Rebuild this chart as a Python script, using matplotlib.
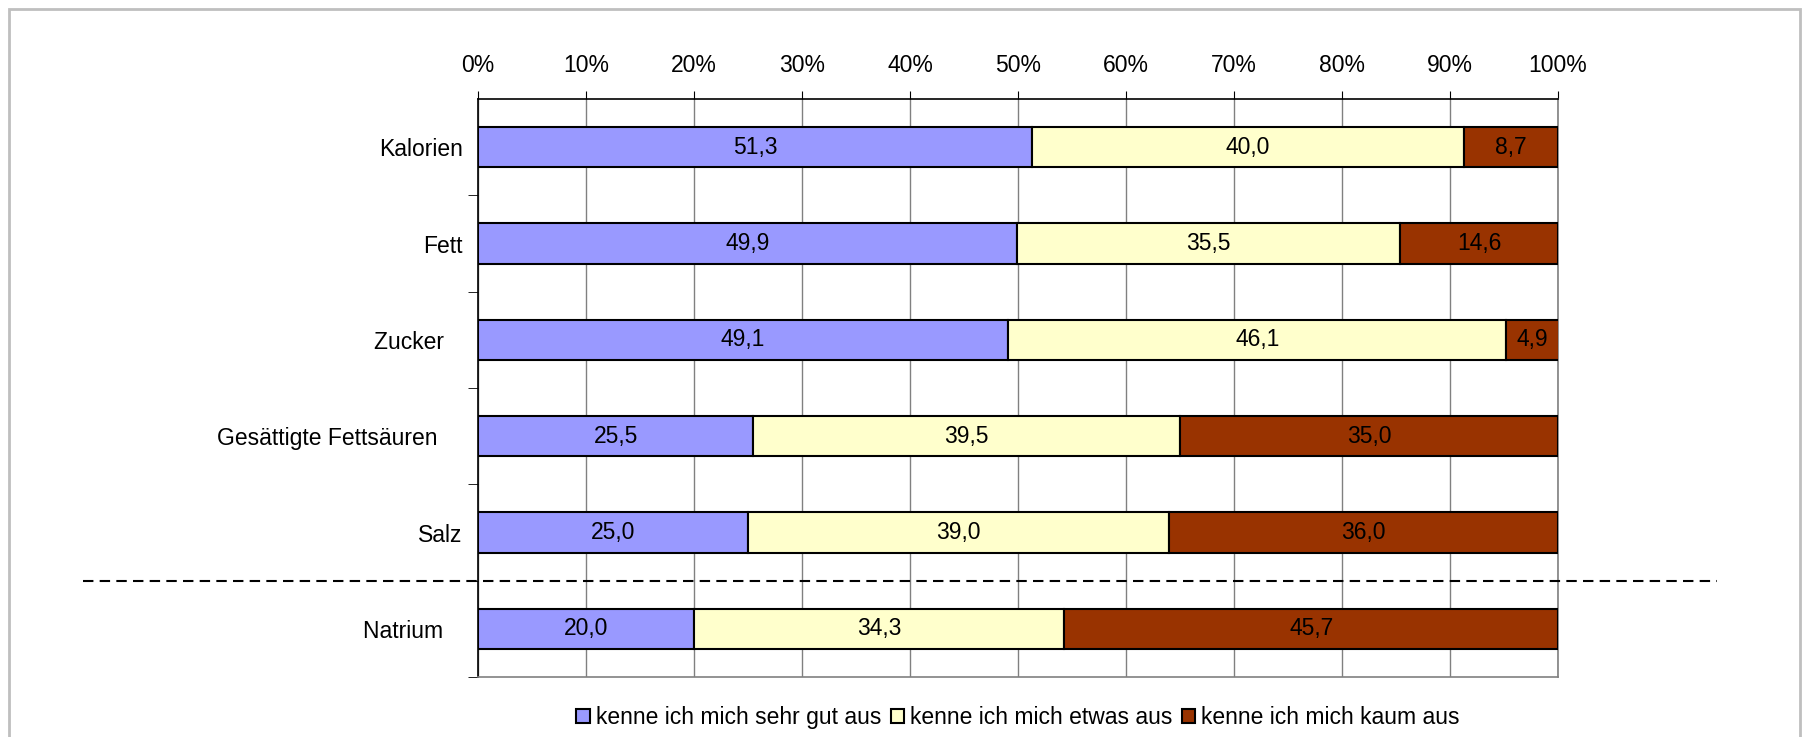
import numpy as np
import matplotlib.pyplot as plt
from matplotlib.patches import Rectangle

plt.rcParams['font.family'] = ['Liberation Sans', 'DejaVu Sans']

# categories from top to bottom
labels = ["Kalorien", "Fett", "Zucker   ", "Gesättigte Fettsäuren    ", "Salz", "Natrium   "]
sehr_gut = [51.3, 49.9, 49.1, 25.5, 25.0, 20.0]
etwas = [40.0, 35.5, 46.1, 39.5, 39.0, 34.3]
kaum = [8.7, 14.6, 4.9, 35.0, 36.0, 45.7]
series_names = ["kenne ich mich sehr gut aus", "kenne ich mich etwas aus", "kenne ich mich kaum aus"]
colors = ["#9999FF", "#FFFFCC", "#993300"]
xticks = [0, 10, 20, 30, 40, 50, 60, 70, 80, 90, 100]

fs = 16.5
fig = plt.figure(figsize=(18.05, 7.37), dpi=100)
ax = fig.add_axes([478/1805, 1-677/737, 1080/1805, 578/737])

# outer chart border
fig.patches.append(Rectangle((9/1805, -0.05), (1800-9)/1805, 1.05-9/737, transform=fig.transFigure,
                             fill=False, edgecolor="#BFBFBF", linewidth=2))

y = np.arange(len(labels))
left = np.zeros(len(labels))
for vals, col, name in zip([sehr_gut, etwas, kaum], colors, series_names):
    bars = ax.barh(y, vals, left=left, height=0.42, color=col, edgecolor="black", linewidth=1.5, label=name, zorder=3)
    for b, v in zip(bars, vals):
        ax.text(b.get_x() + b.get_width()/2, b.get_y() + b.get_height()/2, f"{v:.1f}".replace(".", ","),
                ha="center", va="center", fontsize=fs, zorder=4)
    left = left + np.array(vals)

ax.set_xlim(0, 100)
ax.set_ylim(len(labels) - 0.5, -0.5)
ax.xaxis.tick_top()
ax.set_xticks(xticks)
ax.set_xticklabels([f"{t}%" for t in xticks], fontsize=fs)
ax.tick_params(axis="x", direction="out", length=6, pad=10, color="black")
ax.grid(axis="x", color="#808080", linewidth=1, zorder=0)

ax.set_yticks(y)
ax.set_yticklabels(labels, fontsize=fs)
ax.tick_params(axis="y", length=0, pad=11)
# minor ticks on category boundaries
ax.set_yticks(np.arange(len(labels)) + 0.5, minor=True)
ax.tick_params(axis="y", which="minor", direction="out", length=7, color="black")

ax.spines["top"].set_color("black")
ax.spines["left"].set_color("black")
ax.spines["right"].set_color("#808080")
ax.spines["bottom"].set_color("#808080")
for s in ax.spines.values():
    s.set_linewidth(1.2)

# dashed separator between Salz and Natrium
ax.plot([-36.6, 114.7], [4.5, 4.5], linestyle=(0, (5, 3)), color="black", linewidth=1.5, clip_on=False, zorder=5)

ax.legend(loc="center", bbox_to_anchor=(0.5, -0.07), ncol=3, frameon=False, fontsize=fs,
          handlelength=0.6, handleheight=0.6, handletextpad=0.25, columnspacing=0.4)

fig.savefig("out.png", dpi=100)
